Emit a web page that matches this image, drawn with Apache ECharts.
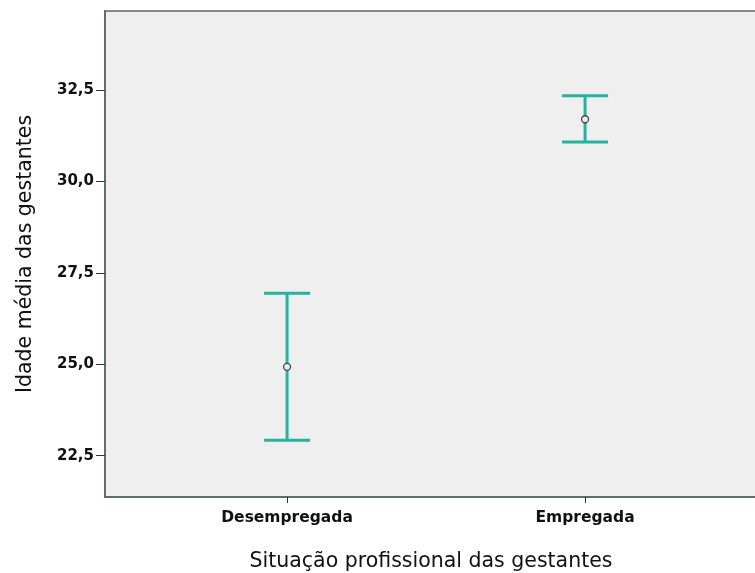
<!DOCTYPE html>
<html>
<head>
<meta charset="utf-8">
<script src="https://cdn.jsdelivr.net/npm/echarts@6/dist/echarts.min.js"></script>
<style>
  html, body { margin: 0; padding: 0; background: #fff; }
  #chart { width: 755px; height: 573px; }
</style>
</head>
<body>
<div id="chart"></div>
<script>
// Mean age with 95% confidence interval, by employment status
const categories = ['Desempregada', 'Empregada'];
const meanAge = [24.93, 31.70];
const lowerCI = [22.92, 31.08];
const upperCI = [26.94, 32.34];
const yTicks = [22.5, 25.0, 27.5, 30.0, 32.5];

const chart = echarts.init(document.getElementById('chart'));

const barColor = '#25b3a0';
const axisColor = '#5f6e6b';

const seriesData = categories.map((c, i) => [i, lowerCI[i], meanAge[i], upperCI[i]]);

chart.setOption({
  animation: false,
  grid: {
    left: 105, top: 11, right: -2, bottom: 76,
    outerBoundsMode: 'none',
    containLabel: false,
    show: true,
    backgroundColor: '#efefef',
    borderColor: '#8a8a8a',
    borderWidth: 2
  },
  xAxis: {
    type: 'value',
    min: -0.611,
    max: 1.577,
    name: 'Situação profissional das gestantes',
    nameLocation: 'middle',
    nameGap: 54,
    nameTextStyle: { fontFamily: 'DejaVu Sans', fontSize: 20.5, color: '#111' },
    axisLine: { show: true, onZero: false, lineStyle: { color: axisColor, width: 2 } },
    axisTick: { show: true, length: 6, customValues: [0, 1], lineStyle: { color: '#333', width: 1 } },
    axisLabel: {
      customValues: [0, 1],
      margin: 13,
      fontFamily: 'DejaVu Sans', fontWeight: 'bold', fontSize: 15.5, color: '#111',
      formatter: v => categories[Math.round(v)]
    },
    splitLine: { show: false }
  },
  yAxis: {
    type: 'value',
    min: 21.37,
    max: 34.66,
    name: 'Idade média das gestantes',
    nameLocation: 'middle',
    nameGap: 69,
    nameRotate: 90,
    nameTextStyle: { fontFamily: 'DejaVu Sans', fontSize: 20.5, color: '#111' },
    axisLine: { show: true, onZero: false, lineStyle: { color: axisColor, width: 2 } },
    axisTick: { show: true, length: 9, customValues: yTicks, lineStyle: { color: '#333', width: 1 } },
    axisLabel: {
      customValues: yTicks,
      margin: 11,
      fontFamily: 'DejaVu Sans', fontWeight: 'bold', fontSize: 15, color: '#111',
      formatter: v => v.toFixed(1).replace('.', ',')
    },
    splitLine: { show: false }
  },
  series: [{
    type: 'custom',
    data: seriesData,
    encode: { x: 0, y: [1, 2, 3] },
    renderItem: function (params, api) {
      const x = api.value(0);
      const lo = api.coord([x, api.value(1)]);
      const mid = api.coord([x, api.value(2)]);
      const hi = api.coord([x, api.value(3)]);
      const half = 23;
      const lineStyle = { stroke: barColor, lineWidth: 3 };
      return {
        type: 'group',
        children: [
          { type: 'line', shape: { x1: lo[0], y1: lo[1], x2: hi[0], y2: hi[1] }, style: lineStyle },
          { type: 'line', shape: { x1: hi[0] - half, y1: hi[1], x2: hi[0] + half, y2: hi[1] }, style: lineStyle },
          { type: 'line', shape: { x1: lo[0] - half, y1: lo[1], x2: lo[0] + half, y2: lo[1] }, style: lineStyle },
          { type: 'circle', shape: { cx: mid[0], cy: mid[1], r: 3.5 }, style: { fill: '#e8eeec', stroke: '#444', lineWidth: 1.3 } }
        ]
      };
    }
  }]
});
</script>
</body>
</html>
